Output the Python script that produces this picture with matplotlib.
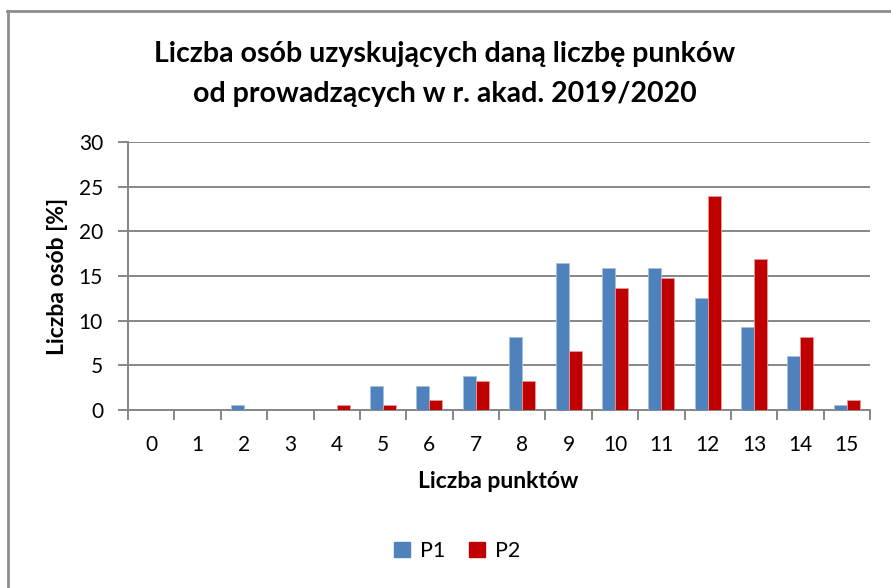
import matplotlib
matplotlib.use("Agg")
import matplotlib.pyplot as plt
from matplotlib.lines import Line2D
from matplotlib.patches import Patch
import numpy as np

categories = [str(i) for i in range(16)]
p1 = [0, 0, 0.55, 0, 0, 2.7, 2.7, 3.8, 8.2, 16.4, 15.9, 15.9, 12.5, 9.3, 6.0, 0.55]
p2 = [0, 0, 0, 0, 0.55, 0.55, 1.1, 3.3, 3.3, 6.6, 13.7, 14.8, 24.0, 16.9, 8.2, 1.1]
series_names = ["P1", "P2"]
title = "Liczba osób uzyskujących daną liczbę punków\nod prowadzących w r. akad. 2019/2020"

plt.rcParams['font.family'] = ['Lato', 'DejaVu Sans']

W, H = 891, 588
fig = plt.figure(figsize=(W / 100, H / 100), dpi=100)
fig.patch.set_facecolor('white')

ax = fig.add_axes([128 / W, 1 - 410 / H, (870 - 128) / W, (410 - 142) / H])

blue = '#4F81BD'
red = '#C00000'
x = np.arange(len(categories))
bw = 0.28
ax.bar(x - bw / 2, p1, width=bw, color=blue, edgecolor='#A7C0DE', linewidth=0.6, zorder=3, label=series_names[0])
ax.bar(x + bw / 2, p2, width=bw, color=red, edgecolor='#E39A9A', linewidth=0.6, zorder=3, label=series_names[1])

ax.set_xlim(-0.5, len(categories) - 0.5)
ax.set_ylim(0, 30)
ax.set_yticks(np.arange(0, 31, 5))
ax.set_xticks(x)
ax.set_xticklabels(categories)
ax.set_xticks(np.arange(-0.5, len(categories), 1), minor=True)

grid_col = '#868686'
ax.yaxis.grid(True, color=grid_col, linewidth=1.4, zorder=0)
ax.set_axisbelow(True)
for s in ['top', 'right']:
    ax.spines[s].set_visible(False)
for s in ['left', 'bottom']:
    ax.spines[s].set_color(grid_col)
    ax.spines[s].set_linewidth(1.4)

ax.tick_params(axis='x', which='major', length=0, pad=18, labelsize=15, colors='black')
ax.tick_params(axis='x', which='minor', length=7, width=1.4, color=grid_col, direction='out')
ax.tick_params(axis='y', which='major', length=7, width=1.4, color=grid_col, direction='out', pad=11, labelsize=15, labelcolor='black')

fig.text(445 / W, 1 - 74 / H, title, ha='center', va='center', fontsize=20.5, fontweight='bold', linespacing=1.65)
fig.text(57 / W, 1 - 276 / H, "Liczba osób [%]", rotation=90, ha='center', va='center', fontsize=16.5, fontweight='bold')
fig.text(498 / W, 1 - 482 / H, "Liczba punktów", ha='center', va='center', fontsize=16.5, fontweight='bold')

handles = [Patch(facecolor=blue, edgecolor=blue), Patch(facecolor=red, edgecolor=red)]
fig.legend(handles, series_names, loc='center', bbox_to_anchor=(457 / W, 1 - 551 / H), ncol=2, frameon=False,
           fontsize=15.5, handlelength=0.75, handleheight=0.75, handletextpad=0.45, columnspacing=1.1)

# outer chart border (top and left only visible)
fig.add_artist(Line2D([7.5 / W, 7.5 / W], [0, 1 - 10.5 / H], color='#8C8C8C', linewidth=2, transform=fig.transFigure))
fig.add_artist(Line2D([6.5 / W, 1], [1 - 10.5 / H, 1 - 10.5 / H], color='#8C8C8C', linewidth=2, transform=fig.transFigure))

fig.savefig('out.png', dpi=100, facecolor='white')
